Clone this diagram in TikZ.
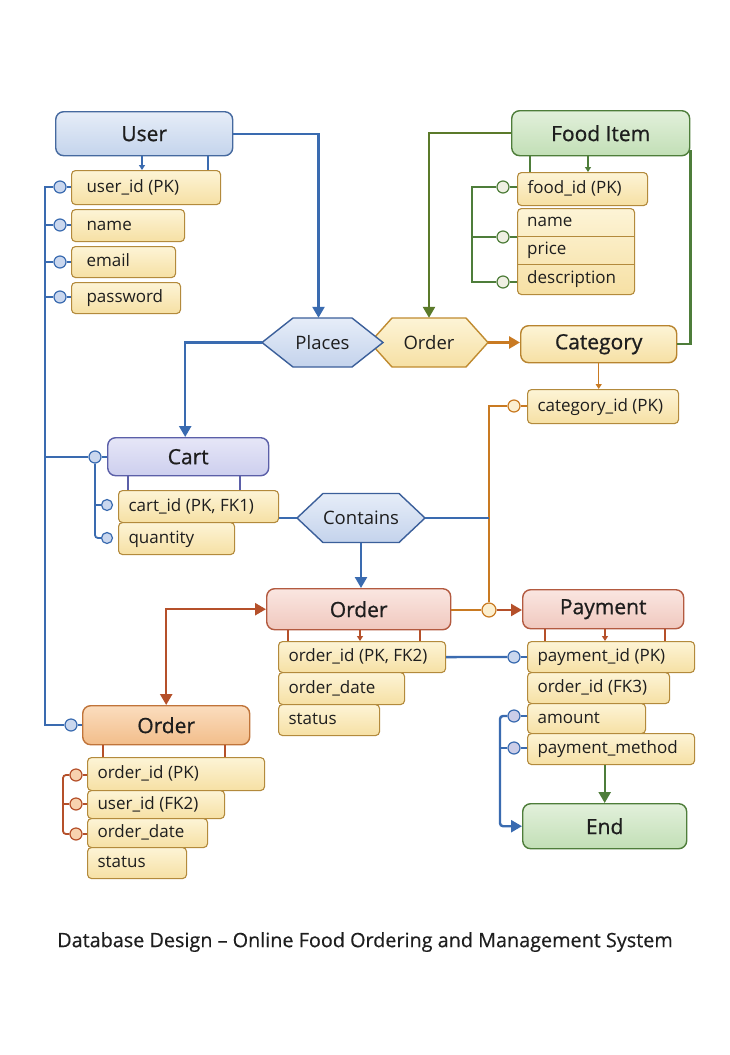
\documentclass[tikz,border=0pt]{standalone}
\usepackage{fontspec}
\setmainfont{Open Sans}
\newfontfamily\semib[FakeBold=0.8]{Open Sans}
\newfontfamily\medf[FakeBold=0.4]{Open Sans}
\usetikzlibrary{arrows.meta,calc}
\definecolor{txt}{HTML}{1E1E1E}
\definecolor{bline}{HTML}{3A6BB0}
\definecolor{bdark}{HTML}{45699F}
\definecolor{userT}{HTML}{E6EDF8}
\definecolor{userB}{HTML}{C4D4EC}
\definecolor{gline}{HTML}{4E7D3A}
\definecolor{olive}{HTML}{5B7A2A}
\definecolor{greenT}{HTML}{E2F0DB}
\definecolor{greenB}{HTML}{C2DFB6}
\definecolor{attrd}{HTML}{B38A3C}
\definecolor{attrT}{HTML}{FDF4D6}
\definecolor{attrB}{HTML}{F6E0A4}
\definecolor{oline}{HTML}{C97A22}
\definecolor{rline}{HTML}{B5502A}
\definecolor{redT}{HTML}{FAE6E1}
\definecolor{redB}{HTML}{F0C8BE}
\definecolor{redD}{HTML}{B35A40}
\definecolor{orgT}{HTML}{FBDDBE}
\definecolor{orgB}{HTML}{F2BD8A}
\definecolor{orgD}{HTML}{C0743A}
\definecolor{cartT}{HTML}{E6E6F7}
\definecolor{cartB}{HTML}{CDCFEE}
\definecolor{cartD}{HTML}{5B5FA8}
\definecolor{hexT}{HTML}{E6EDF8}
\definecolor{hexB}{HTML}{C4D3EC}
\definecolor{hexD}{HTML}{3B5F9A}
\definecolor{catD}{HTML}{B8842F}
\definecolor{ohexD}{HTML}{C08B30}
\definecolor{circB}{HTML}{CAD7EE}
\definecolor{circL}{HTML}{CBCDE8}
\definecolor{circG}{HTML}{EFEFE3}
\definecolor{circO}{HTML}{F8D2AE}
\definecolor{circY}{HTML}{FCEFCF}
\tikzset{
  ent/.style={draw, rounded corners=8pt, line width=1.4pt, inner sep=0pt,
    font=\semib\fontsize{21}{24}\selectfont, text=txt},
  attr/.style={draw=attrd, top color=attrT, bottom color=attrB, rounded corners=4pt,
    line width=1.1pt, inner ysep=1pt, text=txt,
    font=\fontsize{17}{20}\selectfont},
  attrplain/.style={inner ysep=1pt, text=txt,
    font=\fontsize{17}{20}\selectfont},
  hexlbl/.style={inner sep=0pt, font=\fontsize{18.5}{21}\selectfont, text=txt},
  circ/.style={circle, minimum size=12pt, inner sep=0pt, line width=1.2pt},
  bl/.style={draw=bline, line width=2.4pt},
  blt/.style={draw=bline, line width=1.4pt},
  gl/.style={draw=gline, line width=2.4pt},
  glt/.style={draw=gline, line width=1.4pt},
  ol/.style={draw=oline, line width=2.2pt},
  olt/.style={draw=oline, line width=1.3pt},
  rl/.style={draw=rline, line width=2.4pt},
  rlt/.style={draw=rline, line width=1.4pt},
  big/.style={-{Triangle[length=11pt,width=12pt]}},
  small/.style={-{Triangle[length=5pt,width=6pt]}},
}
\def\apad{12}
\newcommand\ebox[7]{% name x1 y1 x2 y2 text style
  \pgfmathsetmacro\ew{#4-#2}\pgfmathsetmacro\eh{#5-#3}%
  \node[ent, minimum width=\ew pt, minimum height=\eh pt, anchor=north west, #7] (#1) at (#2,#3) {#6};}
\newcommand\abox[7]{% style name x1 y1 x2 y2 text
  \pgfmathsetmacro\aw{#5-#3}\pgfmathsetmacro\ah{#6-#4}\pgfmathsetmacro\atw{\aw-2*\apad}%
  \node[#1, inner xsep=\apad pt, minimum height=\ah pt, text height=13pt, text depth=4pt, anchor=north west] (#2) at (#3,#4) {\makebox[\atw pt][l]{#7}};}
\newcommand\hexa[7]{% name cx cy halfw depth style text
  \draw[#6] (#2-#4,#3) -- (#2-#4+#5,#3-24.5) -- (#2+#4-#5,#3-24.5) -- (#2+#4,#3)
     -- (#2+#4-#5,#3+24.5) -- (#2-#4+#5,#3+24.5) -- cycle;
  \node[hexlbl, minimum width=2*#4, minimum height=49] (#1) at (#2,#3) {#7};}
\begin{document}
\begin{tikzpicture}[x=1pt,y=-1pt]
\fill[white] (0,0) rectangle (730,1055);
\useasboundingbox (0,0) rectangle (730,1055);
% ---------------- entities ----------------
\ebox{user}{55}{111}{232}{155}{User}{draw=bdark, top color=userT, bottom color=userB}
\ebox{food}{511}{110}{689}{155}{Food Item}{draw=gline, top color=greenT, bottom color=greenB}
\ebox{category}{520}{325}{676}{362}{Category}{draw=catD, top color=attrT, bottom color=attrB}
\ebox{cart}{107}{437}{268}{475}{Cart}{draw=cartD, top color=cartT, bottom color=cartB}
\ebox{ordm}{266}{588}{450}{629}{Order}{draw=redD, top color=redT, bottom color=redB}
\ebox{pay}{522}{589}{683}{628}{Payment}{draw=redD, top color=redT, bottom color=redB}
\ebox{ordb}{82}{705}{249}{744}{Order}{draw=orgD, top color=orgT, bottom color=orgB}
\ebox{end}{522}{803}{686}{848}{End}{draw=gline, top color=greenT, bottom color=greenB}
% ---------------- relationships ----------------
\hexa{ordhex}{429}{342.5}{59}{22}{draw=ohexD, line width=1.4pt, top color=attrT, bottom color=attrB}{Order}
\hexa{places}{322.5}{342.5}{60.5}{31}{draw=hexD, line width=1.4pt, top color=hexT, bottom color=hexB}{Places}
\hexa{contains}{361}{518}{64}{26}{draw=hexD, line width=1.4pt, top color=hexT, bottom color=hexB}{Contains}
% ---------------- attributes ----------------
\def\apad{15}
\abox{attr}{uid}{71}{170}{220}{204}{user\_id (PK)}
\abox{attr}{uname}{71}{209}{184}{241}{name}
\abox{attr}{uemail}{71}{246}{175}{277}{email}
\abox{attr}{upass}{71}{282}{180}{313}{password}
\def\apad{10}
\abox{attr}{fid}{517}{172}{647}{205}{food\_id (PK)}
\node[draw=attrd, top color=attrT, bottom color=attrB, rounded corners=4pt, line width=1.1pt,
  minimum width=117pt, minimum height=86pt, inner sep=0pt, anchor=north west] (fgrp) at (517,208) {};
\abox{attrplain}{fname}{517}{208}{634}{236}{name}
\abox{attrplain}{fprice}{517}{236}{634}{264}{price}
\abox{attrplain}{fdesc}{517}{264}{634}{294}{description}
\draw[attrd, line width=1.1pt] (fname.south west) -- (fname.south east);
\draw[attrd, line width=1.1pt] (fprice.south west) -- (fprice.south east);
\abox{attr}{catid}{527}{389}{678}{423}{category\_id (PK)}
\abox{attr}{ccid}{118}{490}{278}{522}{cart\_id (PK, FK1)}
\abox{attr}{cqty}{118}{522}{234}{554}{quantity}
\abox{attr}{oid}{278}{641}{445}{672}{order\_id (PK, FK2)}
\abox{attr}{odate}{278}{672}{404}{704}{order\_date}
\abox{attr}{ostat}{278}{704}{379}{735}{status}
\abox{attr}{pid}{527}{641}{694}{672}{payment\_id (PK)}
\abox{attr}{pfk}{527}{672}{669}{703}{order\_id (FK3)}
\abox{attr}{pamt}{527}{703}{645}{733}{amount}
\abox{attr}{pmeth}{527}{733}{694}{764}{payment\_method}
\abox{attr}{boid}{87}{757}{264}{790}{order\_id (PK)}
\abox{attr}{buid}{87}{790}{224}{818}{user\_id (FK2)}
\abox{attr}{bodate}{87}{818}{207}{847}{order\_date}
\abox{attr}{bstat}{87}{847}{186}{878}{status}
% ---------------- circles ----------------
\foreach \n/\y in {cu1/187,cu2/225,cu3/262,cu4/297}
  \node[circ, draw=bline, fill=circB] (\n) at (60,\y) {};
\node[circ, draw=bline, fill=circB] (cc) at (95,457) {};
\node[circ, draw=bline, fill=circB] (cob) at (71,725) {};
\node[circ, draw=bline, fill=circB, minimum size=11pt] (cc1) at (107,505) {};
\node[circ, draw=bline, fill=circB, minimum size=11pt] (cc2) at (107,538) {};
\foreach \n/\y in {cf1/187,cf2/237,cf3/282}
  \node[circ, draw=gline, fill=circG] (\n) at (503,\y) {};
\node[circ, draw=oline, fill=circY] (ccat) at (514,406) {};
\node[circ, draw=oline, fill=circY, minimum size=14pt] (jn) at (489,610) {};
\node[circ, draw=bline, fill=circB] (cp1) at (514,657) {};
\node[circ, draw=bline, fill=circL] (cp2) at (514,716) {};
\node[circ, draw=bline, fill=circL] (cp3) at (514,748) {};
\foreach \n/\y in {cb1/775,cb2/804,cb3/834}
  \node[circ, draw=rline, fill=circO] (\n) at (76,\y) {};
\coordinate (ubus) at (45,0);
\coordinate (fbus) at (472,0);
\coordinate (obus) at (489,0);
\coordinate (pbus) at (500,0);
\coordinate (bbus) at (63,0);
% ---------------- User ----------------
\draw[bl, big] (user.east) -| ($(places.north)+(-4,0)$);
\draw[blt, small] ([xshift=87pt]user.south west) -- ([xshift=71pt]uid.north west);
\draw[blt] ([xshift=153pt]user.south west) -- ([xshift=137pt]uid.north west);
\draw[bl] (cu1.west) -- (ubus |- cu1.west) -- (ubus |- cob.west) -- (cob.west);
\foreach \n in {cu2,cu3,cu4,cc} \draw[bl] (\n.west) -- (ubus |- \n.west);
\draw[blt] (cu1.east) -- (uid.west |- cu1.east);
\draw[blt] (cu2.east) -- (uname.west |- cu2.east);
\draw[blt] (cu3.east) -- (uemail.west |- cu3.east);
\draw[blt] (cu4.east) -- (upass.west |- cu4.east);
\draw[blt] (cob.east) -- (ordb.west |- cob.east);
% ---------------- Food item ----------------
\draw[draw=olive, line width=2.4pt, big] (food.west) -| (ordhex.north);
\draw[glt] ([xshift=19pt]food.south west) -- ([xshift=13pt]fid.north west);
\draw[glt, small] ([xshift=77pt]food.south west) -- ([xshift=71pt]fid.north west);
\draw[gl] (cf1.west) -- (fbus |- cf1.west) -- (fbus |- cf3.west) -- (cf3.west);
\draw[gl] (cf2.west) -- (fbus |- cf2.west);
\draw[glt] (cf1.east) -- (fid.west |- cf1.east);
\draw[glt] (cf2.east) -- (fgrp.west |- cf2.east);
\draw[glt] (cf3.east) -- (fgrp.west |- cf3.east);
\draw[gl] (category.east) -| ([yshift=6pt]food.south east);
% ---------------- Order hex / Category ----------------
\draw[draw=oline, line width=3pt, big] (ordhex.east) -- (ordhex.east -| category.west);
\draw[olt, small] (category.south) -- (category.south |- catid.north);
\draw[olt] (ccat.east) -- (catid.west |- ccat.east);
\draw[ol] (ccat.west) -- (obus |- ccat.west) -- (jn.north);
% ---------------- Cart ----------------
\draw[bl, big] (places.west) -| ($(cart.north)+(-3,0)$);
\draw[draw=cartD, line width=1.6pt] ([xshift=21pt]cart.south west) -- ([xshift=10pt]ccid.north west);
\draw[draw=cartD, line width=1.6pt] ([xshift=133pt]cart.south west) -- ([xshift=122pt]ccid.north west);
\draw[blt, line width=1.8pt, rounded corners=3pt] (cc.south) -- (cc.south |- cc2.west) -- (cc2.west);
\draw[blt, line width=1.8pt, rounded corners=3pt] (cc.south |- cc1.west) -- (cc1.west);
\draw[blt] (cc.east) -- (cart.west |- cc.east);
\draw[bl] (contains.west) -- (contains.west -| ccid.east);
\draw[bl] (contains.east) -- (obus |- contains.east);
\draw[bl, big] (contains.south) -- (contains.south |- ordm.north);
% ---------------- Orders ----------------
\draw[rl, {Triangle[length=11pt,width=12pt]}-{Triangle[length=11pt,width=12pt]}] (ordm.west) -| (ordb.north);
\draw[rlt] ([xshift=22pt]ordm.south west) -- ([xshift=10pt]oid.north west);
\draw[rlt, small] ([xshift=94pt]ordm.south west) -- ([xshift=82pt]oid.north west);
\draw[rlt] ([xshift=154pt]ordm.south west) -- ([xshift=142pt]oid.north west);
\draw[olt] (ordm.east |- jn.west) -- (jn.west);
\draw[rl, big] (jn.east) -- (jn.east -| pay.west);
\draw[rlt] ([xshift=23pt]pay.south west) -- ([xshift=18pt]pid.north west);
\draw[rlt, small] ([xshift=83pt]pay.south west) -- ([xshift=78pt]pid.north west);
\draw[rlt] ([xshift=143pt]pay.south west) -- ([xshift=138pt]pid.north west);
\draw[bl] (oid.east) -- (cp1.west);
\draw[blt] (cp1.east) -- (pid.west |- cp1.east);
\draw[blt] (cp2.east) -- (pamt.west |- cp2.east);
\draw[blt] (cp3.east) -- (pmeth.west |- cp3.east);
\draw[bl, big, rounded corners=3pt] (cp2.west) -- (pbus |- cp2.west) -- (pbus |- end.west) -- (end.west);
\draw[bl, rounded corners=3pt] (cp3.west) -- (pbus |- cp3.west);
\draw[gl, big] (end.north |- pmeth.south) -- (end.north);
\draw[rlt] ([xshift=21pt]ordb.south west) -- ([xshift=16pt]boid.north west);
\draw[rlt] ([xshift=143pt]ordb.south west) -- ([xshift=138pt]boid.north west);
\draw[rl, line width=1.8pt, rounded corners=3pt] (cb1.west) -- (bbus |- cb1.west) -- (bbus |- cb3.west) -- (cb3.west);
\draw[rl, line width=1.8pt] (cb2.west) -- (bbus |- cb2.west);
\draw[rlt] (cb1.east) -- (boid.west |- cb1.east);
\draw[rlt] (cb2.east) -- (buid.west |- cb2.east);
\draw[rlt] (cb3.east) -- (bodate.west |- cb3.east);
% ---------------- title ----------------
\node[font=\medf\fontsize{19.8}{23}\selectfont, text=txt] (title) at (365,942)
  {Database Design – Online Food Ordering and Management System};
\end{tikzpicture}
\end{document}
